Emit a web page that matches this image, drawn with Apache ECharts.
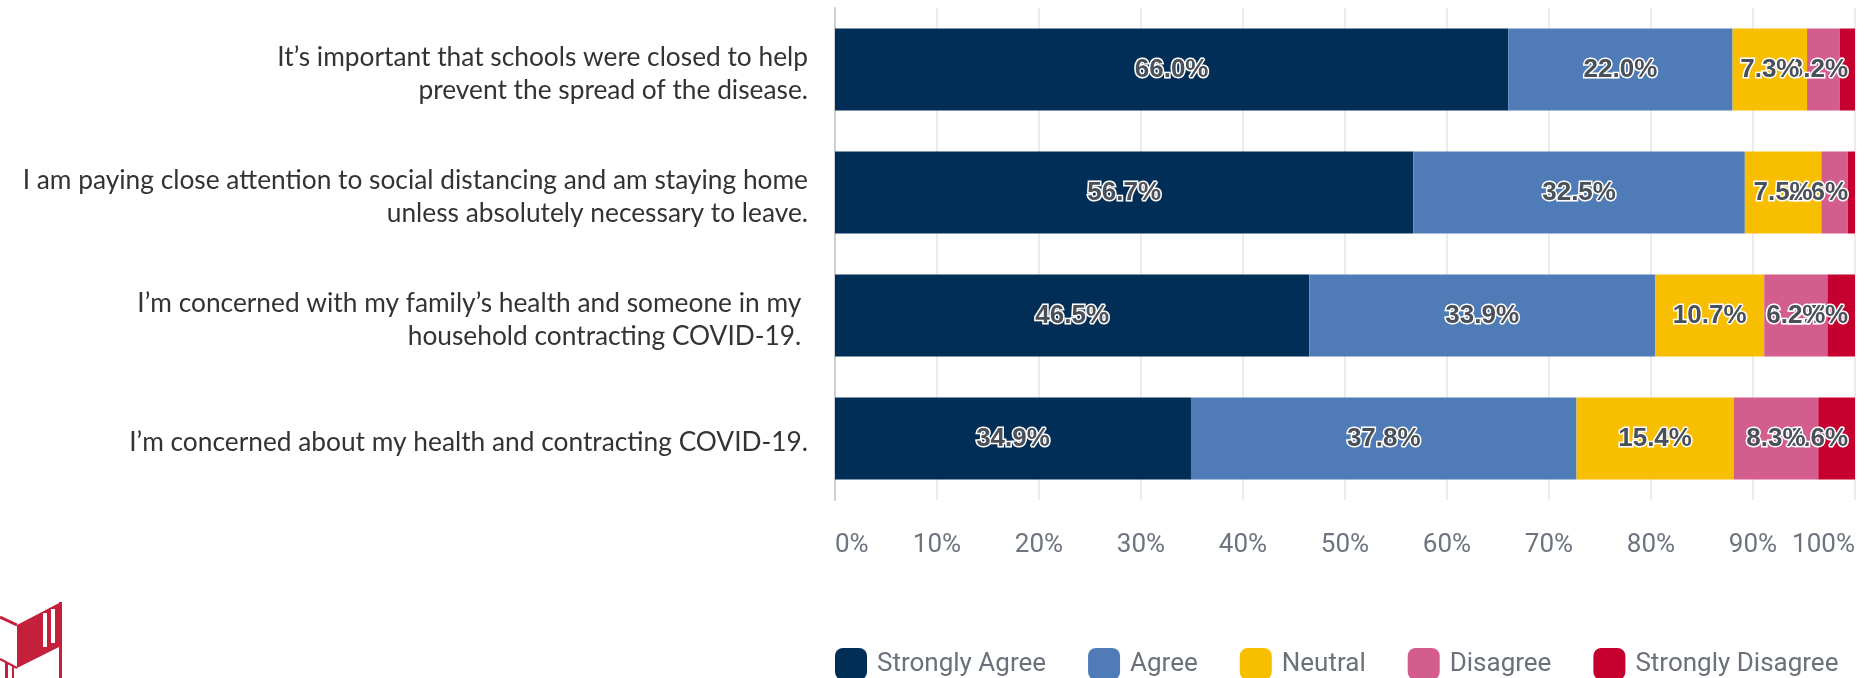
<!DOCTYPE html>
<html>
<head>
<meta charset="utf-8">
<script src="https://cdn.jsdelivr.net/npm/echarts@6/dist/echarts.min.js"></script>
<style>
  html, body { margin: 0; padding: 0; background: #fff; }
  #chart { width: 1872px; height: 678px; }
</style>
</head>
<body>
<div id="chart"></div>
<script>
// statements (top to bottom)
const questions = [
  'It’s important that schools were closed to help\nprevent the spread of the disease.',
  'I am paying close attention to social distancing and am staying home\nunless absolutely necessary to leave.',
  'I’m concerned with my family’s health and someone in my \nhousehold contracting COVID-19. ',
  'I’m concerned about my health and contracting COVID-19.'
]
const answerNames = ['Strongly Agree', 'Agree', 'Neutral', 'Disagree', 'Strongly Disagree']
// percent per answer, one value per statement
const stronglyAgree = [66.0, 56.7, 46.5, 34.9]
const agree = [22.0, 32.5, 33.9, 37.8]
const neutral = [7.3, 7.5, 10.7, 15.4]
const disagree = [3.2, 2.6, 6.2, 8.3]
const stronglyDisagree = [1.5, 0.7, 2.7, 3.6]
const xTicks = [0, 10, 20, 30, 40, 50, 60, 70, 80, 90, 100]

const colors = ['#012e57', '#4f7cb7', '#f8be00', '#d35e8e', '#c5002e']
const allValues = [stronglyAgree, agree, neutral, disagree, stronglyDisagree]

const labelFont = 'bold 26px "Liberation Sans"'
const measureCtx = document.createElement('canvas').getContext('2d')
measureCtx.font = labelFont

const myChart = echarts.init(document.getElementById('chart'))

const barSeries = answerNames.map(function(name, i) {
  return {
    name: name,
    type: 'bar',
    stack: 'total',
    barWidth: 82,
    itemStyle: { color: colors[i] },
    data: allValues[i]
  }
})

// value labels, drawn so that the left segment's label sits on top
const labelSeries = {
  type: 'custom',
  z: 10,
  silent: true,
  encode: { x: 0, y: 1 },
  data: questions.map(function(q, row) { return [0, row] }),
  renderItem: function(params, api) {
    const row = params.dataIndex
    const items = []
    let cum = 0
    for (let i = 0; i < allValues.length; i++) {
      const v = allValues[i][row]
      const start = cum
      cum += v
      if (v < 2) continue
      const text = v.toFixed(1) + '%'
      const pt = api.coord([(start + cum) / 2, row])
      const w = measureCtx.measureText(text).width + 4
      let x = pt[0]
      const right = 1850
      if (x + w / 2 > right) x = right - w / 2
      items.push({
        type: 'text',
        style: {
          text: text,
          x: x,
          y: pt[1],
          align: 'center',
          verticalAlign: 'middle',
          font: labelFont,
          fill: '#4a5059',
          stroke: '#fff',
          lineWidth: 3,
          shadowColor: 'rgba(60,60,60,0.6)',
          shadowBlur: 2
        }
      })
    }
    return { type: 'group', children: items.reverse() }
  }
}

const red = '#c41f3b'
const option = {
  animation: false,
  color: colors,
  grid: { left: 835, top: 8, width: 1020, height: 492 },
  legend: {
    left: 830,
    top: 643,
    itemWidth: 32,
    itemHeight: 32,
    itemGap: 42,
    icon: 'roundRect',
    textStyle: {
      fontFamily: 'Roboto',
      fontSize: 26,
      color: '#6b717a',
      padding: [0, 0, 0, 5]
    },
    data: answerNames
  },
  xAxis: {
    type: 'value',
    min: 0,
    max: 100,
    interval: 10,
    axisLine: { show: false },
    axisTick: { show: false },
    splitLine: { lineStyle: { color: '#e6e6e6', width: 1.5 } },
    axisLabel: {
      formatter: '{value}%',
      margin: 32,
      fontFamily: 'Roboto',
      fontSize: 26,
      color: '#6d747e',
      alignMinLabel: 'left',
      alignMaxLabel: 'right'
    }
  },
  yAxis: {
    type: 'category',
    inverse: true,
    data: questions,
    axisTick: { show: false },
    axisLine: { lineStyle: { color: '#cfcfcf', width: 2 } },
    axisLabel: {
      margin: 27,
      align: 'right',
      // small empty first line pushes the text down a little
      formatter: function(v) {
        return '{s| }\n{q|' + v.split('\n').join('}\n{q|') + '}'
      },
      rich: {
        s: { fontSize: 1, lineHeight: 9 },
        q: {
          fontFamily: 'Lato',
          fontSize: 26.3,
          lineHeight: 33,
          color: '#333',
          align: 'right'
        }
      }
    }
  },
  graphic: [
    {
      type: 'group',
      children: [
        { type: 'polyline', shape: { points: [[0, 617], [17, 625]] }, style: { stroke: red, lineWidth: 3 } },
        { type: 'polygon', shape: { points: [[17, 625], [61, 602], [61, 646], [17, 668]] }, style: { fill: red } },
        { type: 'rect', shape: { x: 43, y: 613, width: 4, height: 34 }, style: { fill: '#fff' } },
        { type: 'rect', shape: { x: 51, y: 609, width: 4, height: 34 }, style: { fill: '#fff' } },
        { type: 'rect', shape: { x: 59, y: 602, width: 3, height: 76 }, style: { fill: red } },
        { type: 'polyline', shape: { points: [[0, 659], [17, 668]] }, style: { stroke: red, lineWidth: 2 } },
        { type: 'rect', shape: { x: 5, y: 662, width: 3, height: 16 }, style: { fill: red } },
        { type: 'rect', shape: { x: 12, y: 666, width: 2, height: 12 }, style: { fill: red } }
      ]
    }
  ],
  series: barSeries.concat([labelSeries])
}
myChart.setOption(option)
window.onresize = () => {
  myChart && myChart.resize()
}
</script>
</body>
</html>
